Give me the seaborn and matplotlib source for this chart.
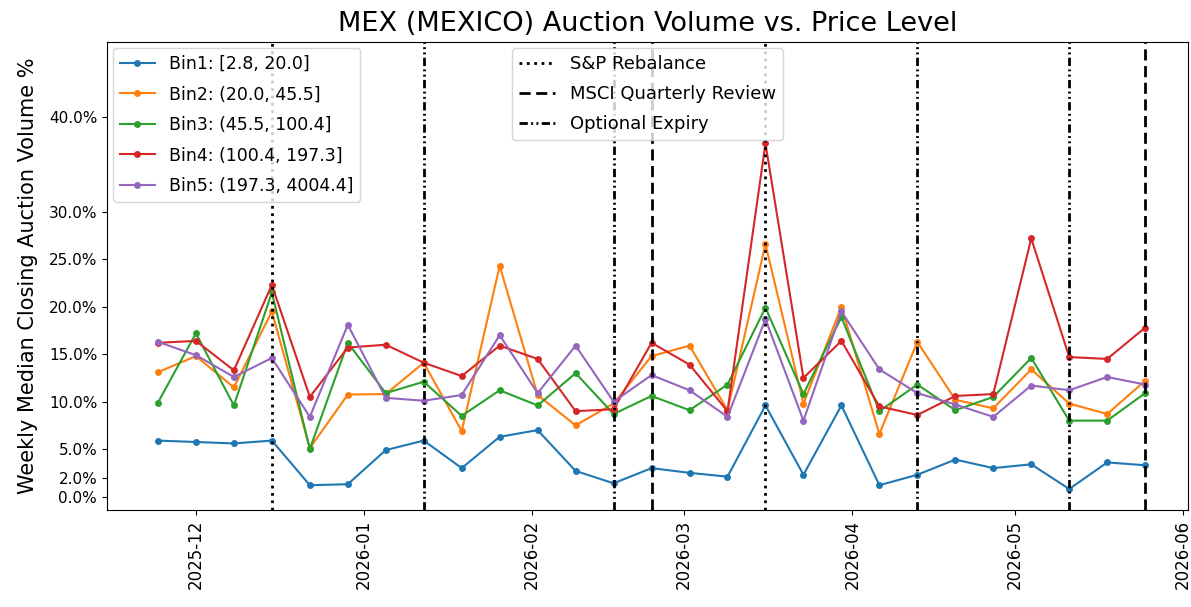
import pandas as pd
import numpy as np
import matplotlib
matplotlib.use("Agg")
import matplotlib.pyplot as plt
import matplotlib.ticker as mticker
import matplotlib.dates as mdates
from matplotlib.lines import Line2D
import seaborn as sns

# weekly dates (Mondays)
dates = pd.date_range("2025-11-24", periods=27, freq="7D")

bin_labels = [
    "Bin1: [2.8, 20.0]",
    "Bin2: (20.0, 45.5]",
    "Bin3: (45.5, 100.4]",
    "Bin4: (100.4, 197.3]",
    "Bin5: (197.3, 4004.4]",
]

# median closing auction volume, in %
bin1 = [5.9, 5.75, 5.6, 5.9, 1.2, 1.3, 4.9, 5.9, 3.0, 6.3, 7.0, 2.7, 1.4, 3.0,
        2.5, 2.1, 9.6, 2.3, 9.6, 1.2, 2.3, 3.9, 3.0, 3.4, 0.8, 3.6, 3.3]
bin2 = [13.1, 14.8, 11.5, 19.5, 5.1, 10.75, 10.8, 14.1, 6.9, 24.3, 10.7, 7.5, 9.8, 14.8,
        15.9, 9.1, 26.6, 9.8, 20.0, 6.6, 16.3, 10.2, 9.3, 13.4, 9.8, 8.7, 12.2]
bin3 = [9.9, 17.2, 9.6, 21.5, 5.0, 16.2, 10.9, 12.1, 8.5, 11.2, 9.6, 13.0, 8.7, 10.6,
        9.1, 11.8, 19.9, 10.8, 18.9, 9.0, 11.8, 9.1, 10.5, 14.6, 8.0, 8.0, 10.9]
bin4 = [16.2, 16.4, 13.3, 22.3, 10.5, 15.7, 16.0, 14.1, 12.7, 15.9, 14.5, 9.0, 9.2, 16.2,
        13.9, 9.0, 37.2, 12.5, 16.4, 9.5, 8.6, 10.6, 10.8, 27.2, 14.7, 14.5, 17.8]
bin5 = [16.3, 14.9, 12.6, 14.6, 8.4, 18.1, 10.4, 10.1, 10.7, 17.0, 10.9, 15.9, 10.0, 12.8,
        11.2, 8.4, 18.7, 8.0, 19.5, 13.4, 10.9, 9.7, 8.4, 11.7, 11.2, 12.6, 11.8]

# event dates
sp_rebalance = ["2025-12-15", "2026-03-16"]
msci_review = ["2026-02-23", "2026-05-25"]
option_expiry = ["2026-01-12", "2026-02-16", "2026-04-13", "2026-05-11"]

yticks = [0, 2, 5, 10, 15, 20, 25, 30, 40]

df = pd.DataFrame({"Date": np.tile(dates, 5),
                   "Bin": np.repeat(bin_labels, len(dates)),
                   "Volume": bin1 + bin2 + bin3 + bin4 + bin5})

fig = plt.figure(figsize=(11.91, 6.07), dpi=100)
ax = fig.add_axes([0.0898, 0.160, 0.9077, 0.771])

sns.lineplot(data=df, x="Date", y="Volume", hue="Bin", palette="tab10",
             marker="o", markersize=5, markeredgewidth=0, linewidth=1.5, ax=ax)

dot_style = ":"
dash_style = (0, (4, 2))
dashdot_style = (0, (3, 1.2, 0.7, 1.2, 0.7, 1.2))

for d in sp_rebalance:
    ax.axvline(pd.Timestamp(d), color="black", linestyle=dot_style, linewidth=2)
for d in msci_review:
    ax.axvline(pd.Timestamp(d), color="black", linestyle=dash_style, linewidth=2)
for d in option_expiry:
    ax.axvline(pd.Timestamp(d), color="black", linestyle=dashdot_style, linewidth=2)

ax.set_ylim(-1.4, 47.9)
ax.set_xlim(pd.Timestamp("2025-11-24") - pd.Timedelta(days=9.4),
            pd.Timestamp("2026-05-25") + pd.Timedelta(days=7.9))
ax.yaxis.set_major_locator(mticker.FixedLocator(yticks))
ax.yaxis.set_major_formatter(mticker.FuncFormatter(lambda v, p: f"{v:.1f}%"))
ax.xaxis.set_major_locator(mdates.MonthLocator())
ax.xaxis.set_major_formatter(mdates.DateFormatter("%Y-%m"))
ax.tick_params(axis="x", labelrotation=90, labelsize=12)
ax.tick_params(axis="y", labelsize=11)

ax.set_title("MEX (MEXICO) Auction Volume vs. Price Level", fontsize=19.5, pad=8)
ax.set_xlabel("")
ax.set_ylabel("Weekly Median Closing Auction Volume %", fontsize=15, labelpad=8)

leg1 = ax.legend(loc="upper left", fontsize=12.5, labelspacing=0.72,
                 borderaxespad=0.35)
ax.add_artist(leg1)
event_handles = [
    Line2D([], [], color="black", linestyle=dot_style, linewidth=2),
    Line2D([], [], color="black", linestyle=dash_style, linewidth=2),
    Line2D([], [], color="black", linestyle=dashdot_style, linewidth=2),
]
ax.legend(event_handles, ["S&P Rebalance", "MSCI Quarterly Review", "Optional Expiry"],
          loc="upper center", fontsize=13, labelspacing=0.65, borderaxespad=0.35)

plt.savefig("out.png", dpi=100)
